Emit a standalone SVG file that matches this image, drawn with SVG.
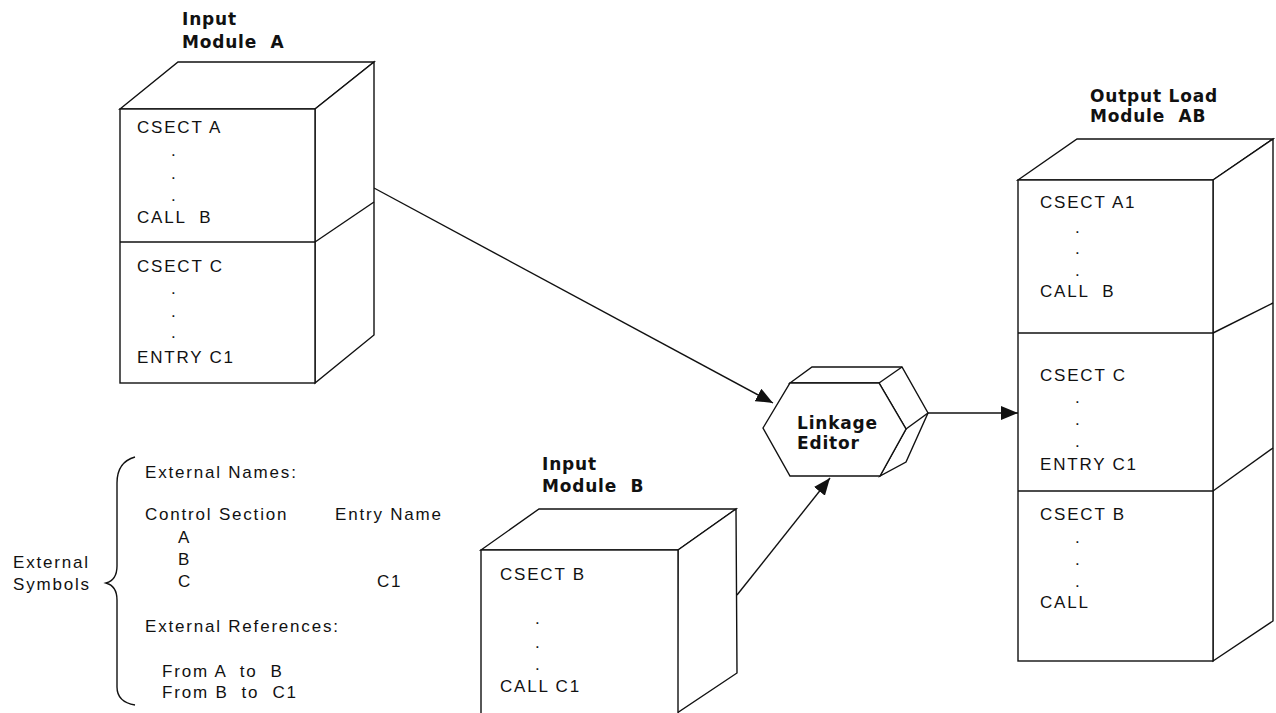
<svg xmlns="http://www.w3.org/2000/svg" width="1276" height="713" viewBox="0 0 1276 713" xml:space="preserve">
<style>
.t{font-family:"Liberation Sans",Arial,sans-serif;font-size:17px;letter-spacing:1.8px;fill:#111;white-space:pre}
.b{font-family:"DejaVu Sans","Liberation Sans",sans-serif;font-size:17px;font-weight:bold;letter-spacing:0.8px;fill:#111;white-space:pre}
.s{fill:#fff;stroke:#111;stroke-width:1.4;stroke-linejoin:miter}
.l{fill:none;stroke:#111;stroke-width:1.4}
</style>
<defs>
<marker id="ah" markerUnits="userSpaceOnUse" markerWidth="18" markerHeight="14" refX="17" refY="7" orient="auto">
<path d="M0,0 L17,7 L0,14 z" fill="#111"/>
</marker>
</defs>
<rect width="1276" height="713" fill="#fff"/>
<g id="connectors">
<line class="l" x1="374" y1="188" x2="773" y2="403" marker-end="url(#ah)"/>
<line class="l" x1="737" y1="595" x2="830" y2="478" marker-end="url(#ah)"/>
<line class="l" x1="928" y1="413" x2="1018" y2="413" marker-end="url(#ah)"/>
</g>
<g id="moduleA">
<text class="b" x="182" y="25">Input</text>
<text class="b" x="182" y="48">Module  A</text>
<polygon class="s" points="120,109 178,62 374,62 315,109"/>
<polygon class="s" points="315,109 374,62 374,335 315,383"/>
<rect class="s" x="120" y="109" width="195" height="274"/>
<line class="l" x1="120" y1="242" x2="315" y2="242"/>
<line class="l" x1="315" y1="242" x2="374" y2="202"/>
<text class="t" x="137" y="133">CSECT A</text>
<text class="t" x="171" y="156">.</text>
<text class="t" x="171" y="179">.</text>
<text class="t" x="171" y="201">.</text>
<text class="t" x="137" y="223">CALL  B</text>
<text class="t" x="137" y="272">CSECT C</text>
<text class="t" x="171" y="294">.</text>
<text class="t" x="171" y="317">.</text>
<text class="t" x="171" y="338">.</text>
<text class="t" x="137" y="363">ENTRY C1</text>
</g>
<g id="linkageEditor">
<polygon class="s" points="790,383 812,367 902,367 928,413 906,462 880,476 906,429 879,383"/>
<line class="l" x1="879" y1="383" x2="902" y2="367"/>
<line class="l" x1="906" y1="429" x2="928" y2="413"/>
<polygon class="s" points="763,428 790,383 879,383 906,429 880,476 790,476"/>
<text class="b" x="797" y="429">Linkage</text>
<text class="b" x="797" y="449">Editor</text>
</g>
<g id="outputModule">
<text class="b" x="1090" y="102">Output Load</text>
<text class="b" x="1090" y="122">Module  AB</text>
<polygon class="s" points="1018,180 1077,139 1273,139 1213,180"/>
<polygon class="s" points="1213,180 1273,139 1273,621 1213,661"/>
<rect class="s" x="1018" y="180" width="195" height="481"/>
<line class="l" x1="1018" y1="333" x2="1213" y2="333"/>
<line class="l" x1="1213" y1="333" x2="1273" y2="303"/>
<line class="l" x1="1018" y1="491" x2="1213" y2="491"/>
<line class="l" x1="1213" y1="491" x2="1273" y2="448"/>
<text class="t" x="1040" y="208">CSECT A1</text>
<text class="t" x="1075" y="233">.</text>
<text class="t" x="1075" y="254">.</text>
<text class="t" x="1075" y="276">.</text>
<text class="t" x="1040" y="297">CALL  B</text>
<text class="t" x="1040" y="381">CSECT C</text>
<text class="t" x="1075" y="403">.</text>
<text class="t" x="1075" y="425">.</text>
<text class="t" x="1075" y="447">.</text>
<text class="t" x="1040" y="470">ENTRY C1</text>
<text class="t" x="1040" y="520">CSECT B</text>
<text class="t" x="1075" y="543">.</text>
<text class="t" x="1075" y="565">.</text>
<text class="t" x="1075" y="587">.</text>
<text class="t" x="1040" y="608">CALL</text>
</g>
<g id="moduleB">
<text class="b" x="542" y="470">Input</text>
<text class="b" x="542" y="492">Module  B</text>
<polygon class="s" points="481,550 539,509 736,509 678,550"/>
<polygon class="s" points="678,550 736,509 737,673 677,713"/>
<rect class="s" x="481" y="550" width="197" height="170"/>
<text class="t" x="500" y="580">CSECT B</text>
<text class="t" x="535" y="624">.</text>
<text class="t" x="535" y="648">.</text>
<text class="t" x="535" y="670">.</text>
<text class="t" x="500" y="692">CALL C1</text>
</g>
<g id="externalSymbols">
<text class="t" x="13" y="568">External</text>
<text class="t" x="13" y="590">Symbols</text>
<path class="l" d="M135,457 Q117,462 117,483 L117,566 Q117,580 106,583 Q117,586 117,600 L117,687 Q117,702 135,705"/>
<text class="t" x="145" y="478">External Names:</text>
<text class="t" x="145" y="520">Control Section</text>
<text class="t" x="335" y="520">Entry Name</text>
<text class="t" x="178" y="543">A</text>
<text class="t" x="178" y="565">B</text>
<text class="t" x="178" y="587">C</text>
<text class="t" x="377" y="587">C1</text>
<text class="t" x="145" y="632">External References:</text>
<text class="t" x="162" y="677">From A  to  B</text>
<text class="t" x="162" y="698">From B  to  C1</text>
</g>
</svg>
